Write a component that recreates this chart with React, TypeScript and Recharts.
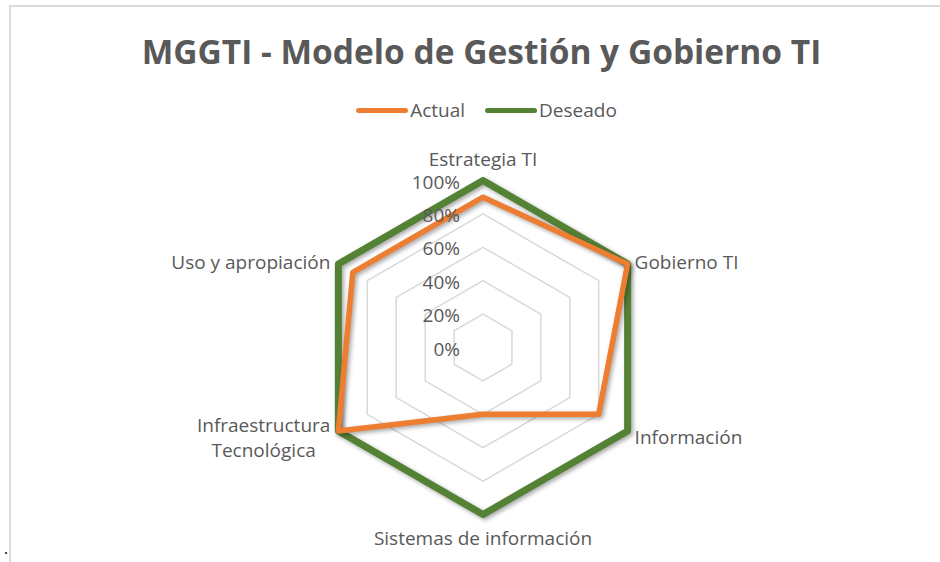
import React from "react";
import { RadarChart, Radar, PolarGrid, PolarAngleAxis, PolarRadiusAxis, Legend } from "recharts";

const categories = [
  "Estrategia TI",
  "Gobierno TI",
  "Información",
  "Sistemas de información",
  "Infraestructura\nTecnológica",
  "Uso y apropiación",
];
const actual = [90, 100, 80, 40, 100, 90];
const deseado = [100, 100, 100, 100, 100, 100];
const radiusTicks = [0, 20, 40, 60, 80, 100];
const seriesNames = ["Actual", "Deseado"];
const title = "MGGTI - Modelo de Gestión y Gobierno TI";

const data = categories.map((c, i) => ({ category: c, Actual: actual[i], Deseado: deseado[i] }));

const W = 940;
const H = 562;
const CX = 483;
const CY = 347.5;
const R = 167;
const FONT = '"Open Sans", sans-serif';
const FS = 19;
const GRAY = "#595959";
const ORANGE = "#ED7D31";
const GREEN = "#548235";

let ctx: CanvasRenderingContext2D | null = null;
function measure(t: string) {
  if (!ctx) {
    ctx = document.createElement("canvas").getContext("2d");
  }
  if (!ctx) return t.length * FS * 0.5;
  ctx.font = `${FS}px "Open Sans"`;
  return ctx.measureText(t).width;
}

function AngleTick(props: any) {
  const { x, y, payload } = props;
  const dx = x - CX;
  const dy = y - CY;
  const ang = Math.atan2(dy, dx);
  const vx = CX + R * Math.cos(ang);
  const vy = CY + R * Math.sin(ang);
  const lines = String(payload.value).split("\n");
  const lh = 25;
  let tx = vx;
  let cyText = vy;
  if (Math.abs(dx) < 1) {
    tx = CX;
    cyText = dy < 0 ? vy - 22 : vy + 23;
  } else {
    const maxW = Math.max(...lines.map(measure));
    cyText = dy < 0 ? vy - 2 : vy + 6;
    tx = dx > 0 ? vx + 7 + maxW / 2 : vx - 8 - maxW / 2;
  }
  const startY = cyText - ((lines.length - 1) * lh) / 2;
  return (
    <g>
      {lines.map((l, i) => (
        <text
          key={i}
          x={tx}
          y={startY + i * lh}
          textAnchor="middle"
          dominantBaseline="central"
          fill={GRAY}
          fontFamily={FONT}
          fontSize={FS}
        >
          {l}
        </text>
      ))}
    </g>
  );
}

function RadiusTick(props: any) {
  const { x, y, payload } = props;
  return (
    <text
      x={x - 23}
      y={y + 1}
      textAnchor="end"
      dominantBaseline="central"
      fill={GRAY}
      fontFamily={FONT}
      fontSize={FS}
    >
      {`${payload.value}%`}
    </text>
  );
}

function LegendContent(props: any) {
  const items = [...(props.payload || [])].sort(
    (a: any, b: any) => seriesNames.indexOf(a.value) - seriesNames.indexOf(b.value)
  );
  return (
    <div style={{ display: "flex", justifyContent: "center", alignItems: "center", gap: 20 }}>
      {items.map((it: any) => (
        <div key={it.value} style={{ display: "flex", alignItems: "center" }}>
          <div style={{ width: 52, height: 5, borderRadius: 3, background: it.color, marginRight: 2 }} />
          <span style={{ fontFamily: FONT, fontSize: FS, color: GRAY, lineHeight: "24px" }}>{it.value}</span>
        </div>
      ))}
    </div>
  );
}

export default function App() {
  return (
    <div style={{ position: "absolute", left: 0, top: 0, width: W, height: H, background: "#fff", overflow: "hidden" }}>
      <style>{`.recharts-radar-polygon path { filter: drop-shadow(2px 2px 2px rgba(0,0,0,0.35)); }`}</style>
      <div
        style={{
          position: "absolute",
          left: 9,
          top: 5,
          width: 980,
          height: 620,
          borderLeft: "2px solid #d9d9d9",
          borderTop: "2px solid #d9d9d9",
        }}
      />
      <span style={{ position: "absolute", left: 4, top: 540, fontSize: 16, lineHeight: "18px", fontFamily: "serif", color: "#000" }}>.</span>
      <div
        style={{
          position: "absolute",
          left: 0,
          top: 29,
          width: 963,
          textAlign: "center",
          fontFamily: FONT,
          fontWeight: 700,
          fontSize: 33.5,
          lineHeight: "44px",
          color: GRAY,
        }}
      >
        {title}
      </div>
      <div style={{ position: "absolute", left: 0, top: 0 }}>
        <RadarChart width={W} height={H} data={data} cx={CX} cy={CY} outerRadius={R} margin={{ top: 0, right: 0, bottom: 0, left: 0 }}>
          <PolarGrid gridType="polygon" radialLines={false} stroke="#d9d9d9" strokeWidth={1.5} />
          <PolarAngleAxis dataKey="category" tick={<AngleTick />} tickLine={false} axisLine={false} />
          <PolarRadiusAxis
            angle={90}
            domain={[0, 100]}
            ticks={radiusTicks}
            tick={<RadiusTick />}
            tickLine={false}
            axisLine={false}
          />
          <Radar
            name="Deseado"
            dataKey="Deseado"
            stroke={GREEN}
            strokeWidth={7}
            fill="none"
            fillOpacity={0}
            dot={false}
            strokeLinejoin="round"
            isAnimationActive={false}
          />
          <Radar
            name="Actual"
            dataKey="Actual"
            stroke={ORANGE}
            strokeWidth={5.5}
            fill="none"
            fillOpacity={0}
            dot={false}
            strokeLinejoin="round"
            isAnimationActive={false}
          />
          <Legend
            content={<LegendContent />}
            wrapperStyle={{ position: "absolute", top: 98, left: 0, width: 973 }}
          />
        </RadarChart>
      </div>
    </div>
  );
}
